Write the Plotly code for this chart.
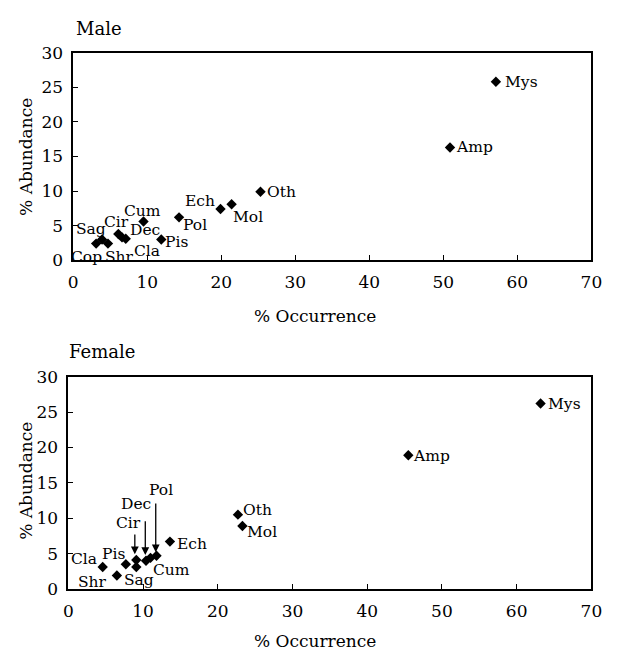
import plotly.graph_objects as go

# ---- data ----
male_labels = ["Cop", "Sag", "Shr", "Cir", "Cla", "Dec", "Cum", "Pis", "Pol", "Ech", "Mol", "Oth", "Amp", "Mys"]
male_occ = [3.1, 3.9, 4.7, 6.1, 6.6, 7.1, 9.5, 11.9, 14.3, 19.9, 21.4, 25.3, 50.9, 57.1]
male_abu = [2.4, 3.0, 2.4, 3.8, 3.3, 3.1, 5.6, 3.0, 6.2, 7.4, 8.1, 9.9, 16.3, 25.8]

female_labels = ["Cla", "Shr", "Pis", "Cir", "Sag", "Dec", "Cum", "Pol", "Ech", "Oth", "Mol", "Amp", "Mys"]
female_occ = [4.6, 6.5, 7.7, 9.1, 9.1, 10.4, 11.0, 11.8, 13.6, 22.7, 23.3, 45.5, 63.2]
female_abu = [3.1, 1.9, 3.5, 4.1, 3.1, 4.0, 4.4, 4.7, 6.7, 10.5, 8.9, 18.9, 26.2]

# label text positions (data coords)
male_lab_x = [1.8, 2.4, 6.3, 5.9, 10.0, 9.7, 9.4, 14.0, 16.4, 17.1, 23.6, 28.2, 54.2, 60.5]
male_lab_y = [0.5, 4.5, 0.5, 5.5, 1.3, 4.3, 7.1, 2.7, 5.1, 8.5, 6.3, 9.9, 16.3, 25.7]

female_lab_x = [2.1, 3.3, 6.0, 8.1, 9.5, 9.0, 13.8, 12.4, 16.5, 25.3, 25.9, 48.6, 66.4]
female_lab_y = [4.2, 1.0, 4.9, 9.3, 1.3, 12.0, 2.7, 14.0, 6.4, 11.2, 8.0, 18.8, 26.1]

# arrows in female panel: (label, x, y_tail, y_head)
arrow_lab = ["Cir", "Dec", "Pol"]
arrow_x = [8.9, 10.3, 11.7]
arrow_tail = [7.9, 9.8, 12.3]
arrow_head = [4.9, 4.8, 5.2]

x_ticks = [0, 10, 20, 30, 40, 50, 60, 70]
y_ticks = [0, 5, 10, 15, 20, 25, 30]

FONT = "DejaVu Serif"
W, H = 617, 664
LAB = 15.5

fig = go.Figure()
fig.add_trace(go.Scatter(x=male_occ, y=male_abu, mode="markers", xaxis="x", yaxis="y",
                         marker=dict(symbol="diamond", size=8, color="black"), showlegend=False))
fig.add_trace(go.Scatter(x=female_occ, y=female_abu, mode="markers", xaxis="x2", yaxis="y2",
                         marker=dict(symbol="diamond", size=8, color="black"), showlegend=False))

ann = []
for t, x, y in zip(male_labels, male_lab_x, male_lab_y):
    ann.append(dict(text=t, x=x, y=y, xref="x", yref="y", showarrow=False,
                    xanchor="center", yanchor="middle", font=dict(family=FONT, size=LAB, color="black")))
for t, x, y in zip(female_labels, female_lab_x, female_lab_y):
    ann.append(dict(text=t, x=x, y=y, xref="x2", yref="y2", showarrow=False,
                    xanchor="center", yanchor="middle", font=dict(family=FONT, size=LAB, color="black")))
for t, x, yt, yh in zip(arrow_lab, arrow_x, arrow_tail, arrow_head):
    ann.append(dict(text="", x=x, y=yh, ax=x, ay=yt, xref="x2", yref="y2", axref="x2", ayref="y2",
                    showarrow=True, arrowhead=2, arrowsize=1.2, arrowwidth=1.3, arrowcolor="black"))

# panel titles and axis titles
ann.append(dict(text="Male", x=96 / W, y=1 - 19 / H, xref="paper", yref="paper", showarrow=False,
                xanchor="center", yanchor="middle", font=dict(family=FONT, size=18, color="black")))
ann.append(dict(text="Female", x=100 / W, y=1 - 352 / H, xref="paper", yref="paper", showarrow=False,
                xanchor="center", yanchor="middle", font=dict(family=FONT, size=18, color="black")))
for yc in [151, 485]:
    ann.append(dict(text="% Abundance", x=22 / W, y=1 - yc / H, xref="paper", yref="paper", showarrow=False,
                    textangle=-90, xanchor="center", yanchor="middle",
                    font=dict(family=FONT, size=17, color="black")))
for yc in [316, 651]:
    ann.append(dict(text="% Occurrence", x=318 / W, y=1 - yc / H, xref="paper", yref="paper", showarrow=False,
                    xanchor="center", yanchor="middle", font=dict(family=FONT, size=17, color="black")))

axis_common = dict(range=[0, 70], tickvals=x_ticks, ticks="inside", ticklen=5, tickcolor="black",
                   showline=True, linecolor="black", linewidth=1.5, mirror=True, showgrid=False,
                   zeroline=False, ticklabelstandoff=6,
                   tickfont=dict(family=FONT, size=17, color="black"))
yaxis_common = dict(range=[0, 30], tickvals=y_ticks, ticks="inside", ticklen=5, tickcolor="black",
                    showline=True, linecolor="black", linewidth=1.5, mirror=True, showgrid=False,
                    zeroline=False, ticklabelstandoff=5,
                    tickfont=dict(family=FONT, size=17, color="black"))

fig.update_layout(
    width=W, height=H, margin=dict(l=0, r=0, t=0, b=0),
    paper_bgcolor="white", plot_bgcolor="white",
    xaxis=dict(domain=[70 / W, 602 / W], anchor="y", **axis_common),
    yaxis=dict(domain=[1 - 258 / H, 1 - 44 / H], anchor="x", **yaxis_common),
    xaxis2=dict(domain=[65 / W, 602 / W], anchor="y2", **axis_common),
    yaxis2=dict(domain=[1 - 597 / H, 1 - 378 / H], anchor="x2", **yaxis_common),
    annotations=ann,
)

fig.write_html("out.html")
